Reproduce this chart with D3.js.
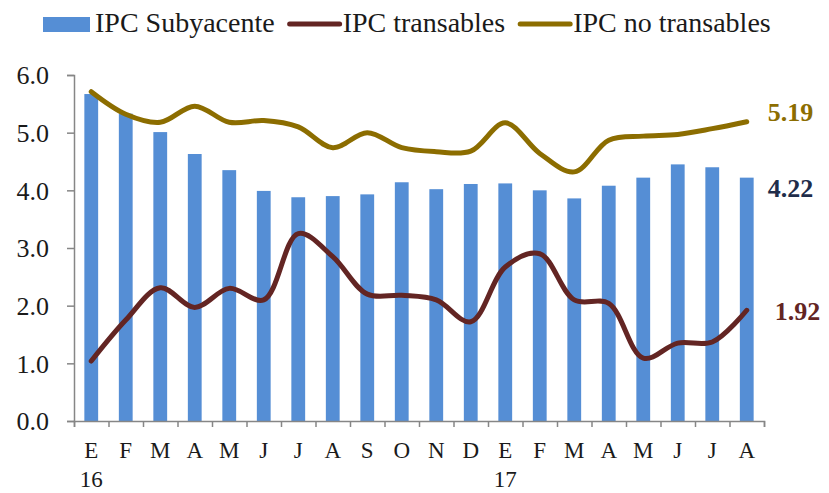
<!DOCTYPE html>
<html>
<head>
<meta charset="utf-8">
<script src="https://cdn.jsdelivr.net/npm/d3@7"></script>
<style>
  body { margin: 0; background: #fff; }
  svg { font-family: "Liberation Serif", "Times New Roman", serif; }
</style>
</head>
<body>
<svg id="chart" width="829" height="493"></svg>
<script>
// monthly data, Jan 2016 - Aug 2017
const months = ["E", "F", "M", "A", "M", "J", "J", "A", "S", "O", "N", "D",
                "E", "F", "M", "A", "M", "J", "J", "A"];
const years = ["16", "", "", "", "", "", "", "", "", "", "", "",
               "17", "", "", "", "", "", "", ""];
const subyacente = [5.67, 5.33, 5.01, 4.63, 4.35, 3.99, 3.88, 3.90, 3.93, 4.14,
                    4.02, 4.11, 4.12, 4.00, 3.86, 4.08, 4.22, 4.45, 4.40, 4.22];
const transables = [1.04, 1.75, 2.31, 1.97, 2.30, 2.10, 3.25, 2.85, 2.20, 2.18,
                    2.10, 1.72, 2.67, 2.90, 2.10, 2.04, 1.09, 1.35, 1.37, 1.92];
const noTransables = [5.71, 5.32, 5.18, 5.46, 5.18, 5.21, 5.10, 4.74, 5.00, 4.74,
                      4.67, 4.68, 5.17, 4.64, 4.32, 4.87, 4.94, 4.97, 5.07, 5.19];
const yTicks = [0, 1, 2, 3, 4, 5, 6];

const blue = "#558ed5", red = "#632523", gold = "#8c6d00", navy = "#1f2d4a";
const axisGrey = "#868686";

const svg = d3.select("#chart");
const padL = 74, padR = 764, padT = 75, padB = 421;
const idx = d3.range(months.length);

const x = d3.scaleBand()
    .domain(idx)
    .range([padL, padR])
    .paddingInner(0.6)
    .paddingOuter(0.3);
const xTick = d3.scaleLinear().domain([0, months.length]).range([padL, padR]);
const y = d3.scaleLinear().domain([0, 6]).range([padB, padT]);
const cx = i => x(i) + x.bandwidth() / 2;

// bars
svg.append("g")
  .selectAll("rect")
  .data(subyacente)
  .enter()
  .append("rect")
    .attr("x", (d, i) => x(i))
    .attr("y", d => y(d))
    .attr("width", x.bandwidth())
    .attr("height", d => padB - y(d))
    .style("fill", blue);

// y axis
const yAxis = svg.append("g")
    .attr("transform", "translate(" + padL + ",0)")
    .call(d3.axisLeft(y).tickValues(yTicks).tickSize(7).tickPadding(18)
      .tickFormat(d3.format(".1f")));
yAxis.select(".domain").attr("stroke", axisGrey).attr("stroke-width", 1.5);
yAxis.selectAll(".tick line").attr("stroke", axisGrey).attr("stroke-width", 1.5);
yAxis.selectAll(".tick text")
    .attr("font-size", 26)
    .attr("fill", "#1a1a1a")
    .attr("font-family", "Liberation Serif, serif")
    .attr("dy", "0.34em");

// x axis: ticks between categories
const xAxis = svg.append("g")
    .attr("transform", "translate(0," + padB + ")")
    .call(d3.axisBottom(xTick).tickValues(d3.range(months.length + 1))
      .tickSize(6).tickFormat(""));
xAxis.select(".domain").attr("stroke", axisGrey).attr("stroke-width", 1.5);
xAxis.selectAll(".tick line").attr("stroke", axisGrey).attr("stroke-width", 1.5);

svg.append("g")
  .selectAll("text")
  .data(months)
  .enter()
  .append("text")
    .attr("x", (d, i) => cx(i))
    .attr("y", 458)
    .attr("text-anchor", "middle")
    .attr("font-size", 23)
    .attr("fill", "#1a1a1a")
    .text(d => d);

svg.append("g")
  .selectAll("text")
  .data(years)
  .enter()
  .append("text")
    .attr("x", (d, i) => cx(i))
    .attr("y", 487)
    .attr("text-anchor", "middle")
    .attr("font-size", 23)
    .attr("fill", "#1a1a1a")
    .text(d => d);

// lines
const line = d3.line()
    .x((d, i) => cx(i))
    .y(d => y(d))
    .curve(d3.curveCatmullRom.alpha(0.5));

svg.append("path")
    .datum(noTransables)
    .attr("d", line)
    .attr("fill", "none")
    .attr("stroke", gold)
    .attr("stroke-width", 5)
    .attr("stroke-linecap", "round");

svg.append("path")
    .datum(transables)
    .attr("d", line)
    .attr("fill", "none")
    .attr("stroke", red)
    .attr("stroke-width", 5)
    .attr("stroke-linecap", "round");

// end labels
const last = months.length - 1;
const endLabels = [
  {v: noTransables[last], color: gold, dx: 21, dy: -1},
  {v: subyacente[last], color: navy, dx: 21, dy: 19},
  {v: transables[last], color: red, dx: 28, dy: 10}
];
svg.append("g")
  .selectAll("text")
  .data(endLabels)
  .enter()
  .append("text")
    .attr("x", d => cx(last) + d.dx)
    .attr("y", d => y(d.v) + d.dy)
    .attr("font-size", 26)
    .attr("font-weight", "bold")
    .attr("fill", d => d.color)
    .text(d => d.v.toFixed(2));

// legend
const legend = svg.append("g");
let lx = 43;
const items = [
  {name: "IPC Subyacente", type: "rect", color: blue},
  {name: "IPC transables", type: "line", color: red},
  {name: "IPC no transables", type: "line", color: gold}
];
items.forEach((it, i) => {
  if (it.type === "rect") {
    legend.append("rect")
      .attr("x", lx).attr("y", 17)
      .attr("width", 47).attr("height", 15)
      .style("fill", it.color);
    lx += 52;
  } else {
    legend.append("line")
      .attr("x1", lx).attr("x2", lx + 50)
      .attr("y1", 24).attr("y2", 24)
      .attr("stroke", it.color)
      .attr("stroke-width", 5)
      .attr("stroke-linecap", "round");
    lx += 53;
  }
  const t = legend.append("text")
    .attr("x", lx).attr("y", 32)
    .attr("font-size", 28)
    .attr("fill", "#1a1a1a")
    .text(it.name);
  lx += t.node().getComputedTextLength() + 15;
});
</script>
</body>
</html>
